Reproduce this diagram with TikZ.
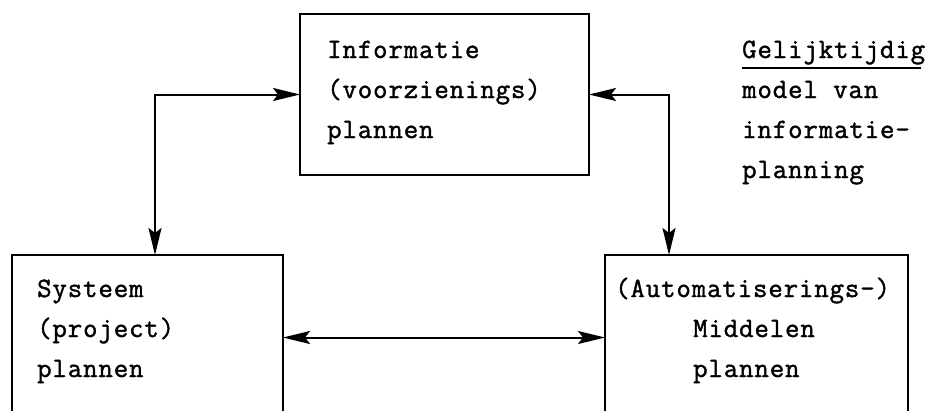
\documentclass[tikz,border=0pt]{standalone}
\usepackage{fontspec}
\newfontfamily\typewriter[FakeBold=1.4, LetterSpace=3.2]{Latin Modern Mono}
\usetikzlibrary{arrows.meta}
\tikzset{
  frame/.style={draw, line width=2.4pt, rectangle, inner sep=0pt, outer sep=0pt},
  conn/.style={line width=2pt, {Stealth[length=27pt,width=13pt,inset=5pt]}-{Stealth[length=27pt,width=13pt,inset=5pt]}},
  txt/.style={anchor=base west, inner sep=0pt, font=\typewriter\fontsize{28}{40}\selectfont}
}
\begin{document}
\begin{tikzpicture}[x=1pt, y=-1pt]
  \useasboundingbox (0,0) rectangle (936,410);
  \clip (0,0) rectangle (936,410);
  \fill[white] (0,0) rectangle (936,410);

  % the three planning boxes; the lower two run on past the bottom edge
  \node[frame, minimum width=289pt, minimum height=161pt] (top) at (444.5,94.5) {};
  \node[frame, minimum width=271pt, minimum height=165pt] (lb) at (147.5,337.5) {};
  \node[frame, minimum width=303pt, minimum height=165pt] (rb) at (756.5,337.5) {};

  % box texts
  \node[txt] (t1) at (327,58) {Informatie};
  \node[txt] (t2) at (327,98) {(voorzienings)};
  \node[txt] (t3) at (327,138) {plannen};

  \node[txt] (l1) at (37,297) {Systeem};
  \node[txt] (l2) at (37,337) {(project)};
  \node[txt] (l3) at (37,377) {plannen};

  \node[txt] (r1) at (615,297) {(Automatiserings-)};
  \node[txt] (r2) at (693,337) {Middelen};
  \node[txt] (r3) at (693,377) {plannen};

  % caption
  \node[txt] (c1) at (742,58) {Gelijktijdig};
  \node[txt] (c2) at (742,98) {model van};
  \node[txt] (c3) at (742,138) {informatie-};
  \node[txt] (c4) at (742,178) {planning};
  \draw[line width=1.8pt] ([yshift=-10pt]c1.base west) -- ([yshift=-10pt,xshift=-4pt]c1.base east);

  % connectors
  \draw[conn] (top.west) -| ([xshift=7.5pt]lb.north);
  \draw[conn] (top.east) -| ([xshift=-87.5pt]rb.north);
  \draw[conn] (lb.east) -- (rb.west);
\end{tikzpicture}
\end{document}
